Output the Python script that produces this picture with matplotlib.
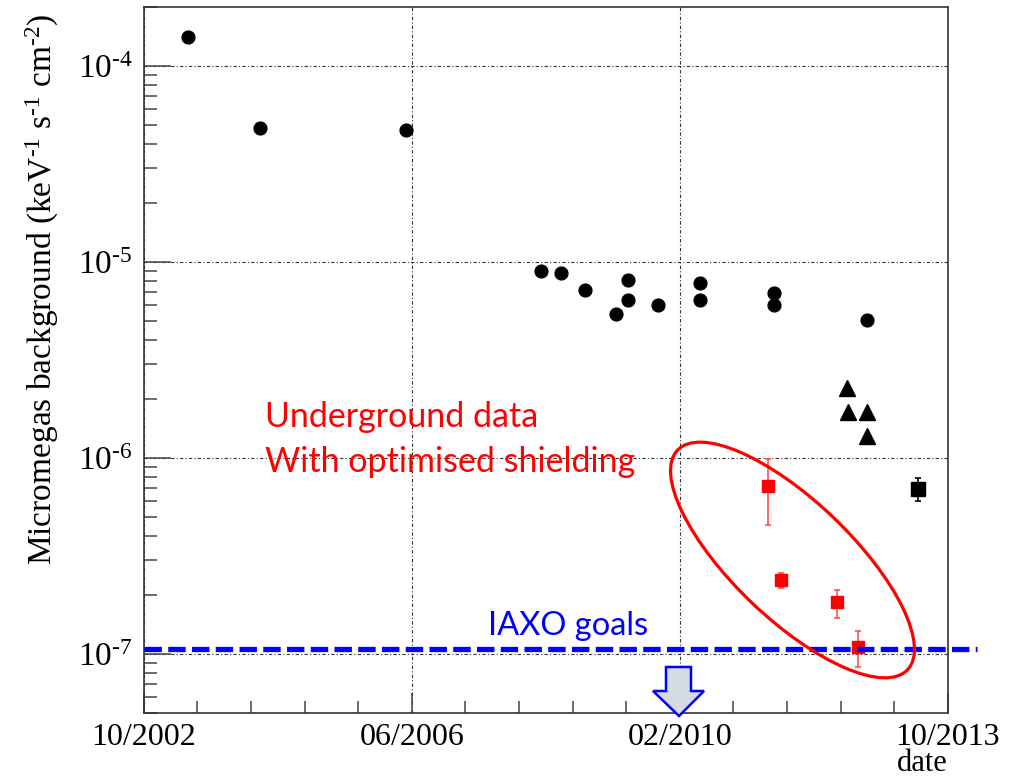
import matplotlib
matplotlib.use('Agg')
import matplotlib.pyplot as plt
from matplotlib.patches import Ellipse, Polygon
from matplotlib.transforms import Affine2D
import numpy as np

# x in months since 10/2002
circle_x = [7.2, 19.1, 43.1, 65.3, 68.5, 72.5, 77.5, 79.5, 79.5, 84.5, 91.4, 91.4, 103.4, 103.4, 118.7]
circle_y = [1.40e-4, 4.83e-5, 4.73e-5, 9.0e-6, 8.8e-6, 7.23e-6, 5.46e-6, 8.13e-6, 6.43e-6,
            6.0e-6, 7.81e-6, 6.37e-6, 6.95e-6, 6.06e-6, 5.06e-6]

tri_x = [115.4, 115.6, 118.7, 118.7]
tri_y = [2.27e-6, 1.72e-6, 1.72e-6, 1.29e-6]

sq_x = [127.2]
sq_y = [6.96e-7]
sq_lo = [6.05e-7]
sq_hi = [7.9e-7]

red_x = [102.5, 104.6, 113.8, 117.2]
red_y = [7.23e-7, 2.38e-7, 1.84e-7, 1.08e-7]
red_lo = [4.56e-7, 2.16e-7, 1.53e-7, 8.54e-8]
red_hi = [9.9e-7, 2.60e-7, 2.11e-7, 1.31e-7]

iaxo_goal = 1.06e-7
iaxo_end = 136.8

xtick_pos = [0, 44, 88, 132]
xtick_labels = ['10/2002', '06/2006', '02/2010', '10/2013']
ytick_pos = [1e-7, 1e-6, 1e-5, 1e-4]
ytick_labels = [r'$10^{\text{-7}}$', r'$10^{\text{-6}}$', r'$10^{\text{-5}}$', r'$10^{\text{-4}}$']

plt.rcParams['font.family'] = ['Liberation Serif']
plt.rcParams['mathtext.fontset'] = 'custom'
plt.rcParams['mathtext.rm'] = 'Liberation Serif'
plt.rcParams['mathtext.it'] = 'Liberation Serif:italic'

W, H = 1023, 781
fig = plt.figure(figsize=(W / 100, H / 100), dpi=100)
ax = fig.add_axes([143.7 / W, 1 - 713 / H, 804 / W, 706 / H])

# image pixel coordinates (y down) -> display
px = Affine2D().scale(1 / 100., -1 / 100.).translate(0, H / 100.) + fig.dpi_scale_trans

ax.set_yscale('log')
ax.set_xlim(0, 132)
ax.set_ylim(5e-8, 2e-4)

ax.plot(circle_x, circle_y, 'o', color='black', ms=9.2, zorder=5)
ax.plot(tri_x, tri_y, '^', color='black', ms=11, zorder=5)

sq_err = [np.array(sq_y) - np.array(sq_lo), np.array(sq_hi) - np.array(sq_y)]
ax.errorbar(sq_x, sq_y, yerr=sq_err, fmt='s', color='black', ms=9.5,
            elinewidth=1.2, capsize=2.5, capthick=1.2, zorder=5)

red_err = [np.array(red_y) - np.array(red_lo), np.array(red_hi) - np.array(red_y)]
ax.errorbar(red_x, red_y, yerr=red_err, fmt='s', color='#ff0000', ecolor='#ff5050',
            ms=9, elinewidth=1.2, capsize=2.5, capthick=1.2, zorder=5)

ax.plot([0, iaxo_end], [iaxo_goal, iaxo_goal], color='#0000ff', lw=3.8,
        dashes=(3.3, 1.2), clip_on=False, zorder=6)

# grid and ticks
ax.grid(which='major', color='#333333', lw=0.8, linestyle=(0, (3, 2, 1, 2)))
ax.set_xticks(xtick_pos)
ax.set_xticklabels(xtick_labels)
ax.set_xticks(np.arange(0, 132.1, 8.8), minor=True)
ax.set_yticks(ytick_pos)
ax.set_yticklabels(ytick_labels)
ax.tick_params(axis='both', which='both', direction='in', color='#444444', width=1.1)
ax.tick_params(axis='x', which='major', length=14.5, pad=7, labelsize=23)
ax.tick_params(axis='x', which='minor', length=8.5)
ax.tick_params(axis='y', which='major', length=19.5, pad=8, labelsize=24)
ax.tick_params(axis='y', which='minor', length=9.5)
ax.yaxis.set_minor_formatter(matplotlib.ticker.NullFormatter())
for s in ax.spines.values():
    s.set_color('#333333')
    s.set_linewidth(1.2)

ax.set_ylabel(r'Micromegas background (keV$^{\text{-1}}$ s$^{\text{-1}}$ cm$^{\text{-2}}$)', fontsize=24)
ax.yaxis.set_label_coords(-0.103, 0.6)
ax.set_xlabel('date', fontsize=22, loc='right', labelpad=-2)

# annotations
sans = ['Lato', 'DejaVu Sans']
fig.text(265, 426.7, 'Underground data', transform=px, color='#ff0000', fontsize=24.5,
         family=sans, va='baseline', ha='left')
fig.text(265, 471.5, 'With optimised shielding', transform=px, color='#ff0000', fontsize=24.5,
         family=sans, va='baseline', ha='left')
fig.text(488, 635, 'IAXO goals', transform=px, color='#0000ff', fontsize=23.5,
         family=sans, va='baseline', ha='left')

ell = Ellipse((792.5, 560), 318, 118, angle=43.7, transform=px, fill=False,
              edgecolor='#ff0000', lw=2.3, clip_on=False, zorder=7)
fig.add_artist(ell)

arrow_pts = [(666, 667), (691, 667), (691, 691), (704, 691), (679, 716),
             (653, 691), (666, 691)]
arr = Polygon(arrow_pts, closed=True, transform=px, facecolor='#d6dce5',
              edgecolor='#0000ff', lw=1.8, clip_on=False, zorder=8)
fig.add_artist(arr)

fig.savefig('out.png', dpi=100)
